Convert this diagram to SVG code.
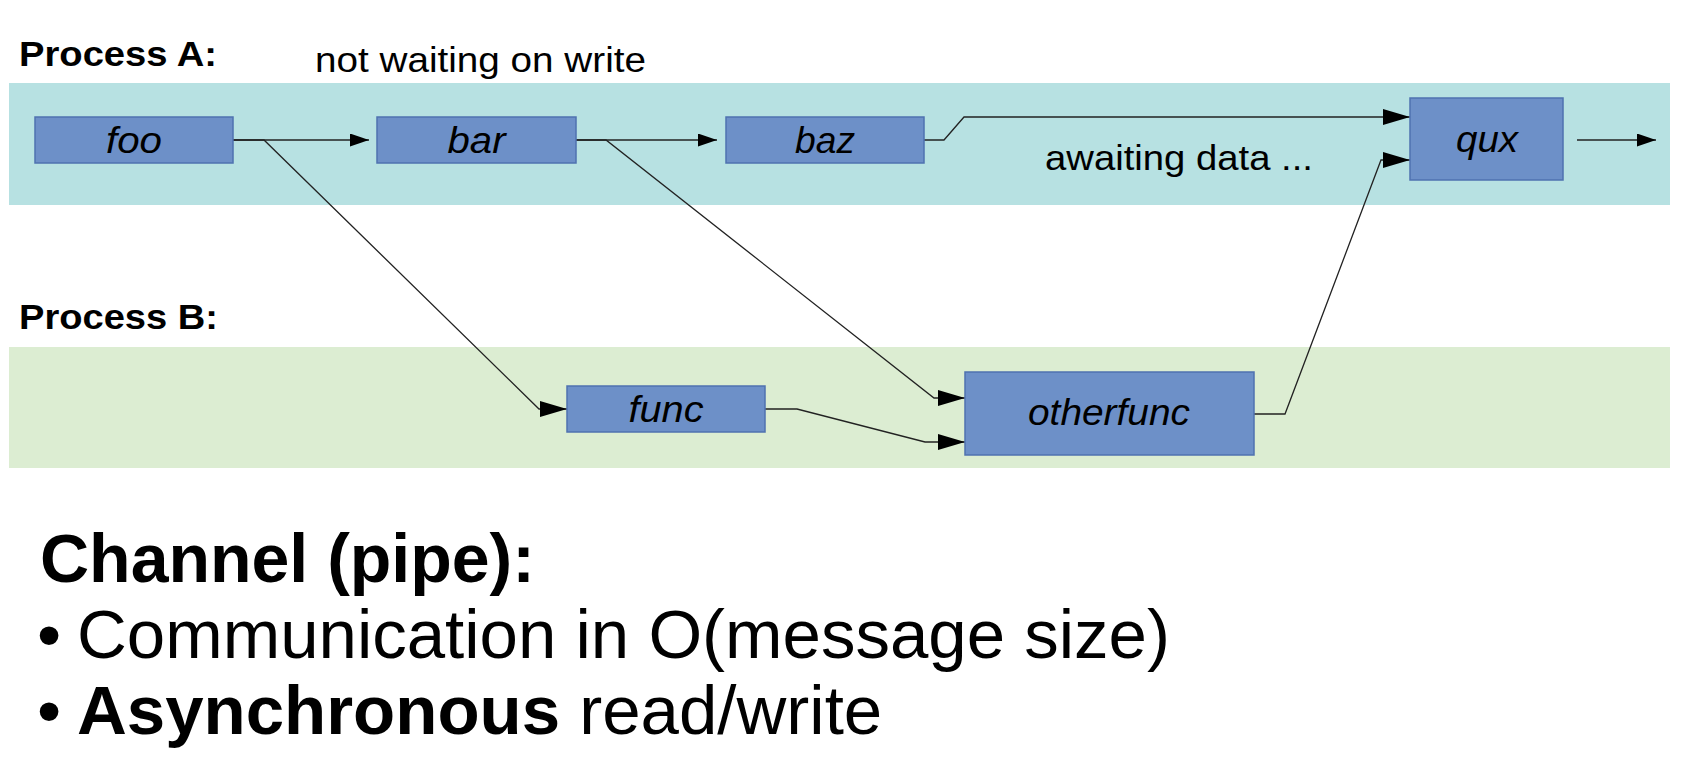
<svg xmlns="http://www.w3.org/2000/svg" width="1691" height="781" viewBox="0 0 1691 781">
<style>
.lbl{font-family:"Liberation Sans",Arial,sans-serif;font-size:35px;fill:#000}
.b{font-weight:bold}
.it{font-style:italic;text-anchor:middle;font-size:36px}
.box{fill:#6d90c8;stroke:#4f72b0;stroke-width:1.5}
.con{fill:none;stroke:#222;stroke-width:1.3}
.big{font-family:"Liberation Sans",Arial,sans-serif;font-size:68px;fill:#000}
.bul{font-size:69px}
</style>
<defs>
<marker id="aS" markerUnits="userSpaceOnUse" markerWidth="20" markerHeight="14" refX="19" refY="6.5" orient="auto"><path d="M0,0 L19,6.5 L0,13 z" fill="#000"/></marker>
<marker id="aL" markerUnits="userSpaceOnUse" markerWidth="28" markerHeight="17" refX="27" refY="8" orient="auto"><path d="M0,0 L27,8 L0,16 z" fill="#000"/></marker>
</defs>
<rect width="1691" height="781" fill="#fff"/>
<rect id="laneA" x="9" y="83" width="1661" height="122" fill="#b7e1e2"/>
<rect id="laneB" x="9" y="347" width="1661" height="121" fill="#dcedd2"/>
<text class="lbl b" x="19" y="66" textLength="198" lengthAdjust="spacingAndGlyphs">Process A:</text>
<text class="lbl" x="315" y="72" textLength="331" lengthAdjust="spacingAndGlyphs">not waiting on write</text>
<text class="lbl" x="1045" y="170" textLength="268" lengthAdjust="spacingAndGlyphs">awaiting data ...</text>
<text class="lbl b" x="19" y="329" textLength="199" lengthAdjust="spacingAndGlyphs">Process B:</text>
<g id="connectors">
<path class="con" d="M233,140 H369" marker-end="url(#aS)"/>
<path class="con" d="M576,140 H717" marker-end="url(#aS)"/>
<path class="con" d="M924,140 H944 L964,117 H1410" marker-end="url(#aL)"/>
<path class="con" d="M233,140 H264 L539,409 H567" marker-end="url(#aL)"/>
<path class="con" d="M576,140 H606 L934,398 H965" marker-end="url(#aL)"/>
<path class="con" d="M765,409 H797 L925,442 H965" marker-end="url(#aL)"/>
<path class="con" d="M1254,414 H1285 L1381,160 H1410" marker-end="url(#aL)"/>
<path class="con" d="M1577,140 H1656" marker-end="url(#aS)"/>
</g>
<g id="foo"><rect class="box" x="35" y="117" width="198" height="46"/><text class="lbl it" x="134" y="153" textLength="56" lengthAdjust="spacingAndGlyphs">foo</text></g>
<g id="bar"><rect class="box" x="377" y="117" width="199" height="46"/><text class="lbl it" x="476.5" y="153" textLength="58" lengthAdjust="spacingAndGlyphs">bar</text></g>
<g id="baz"><rect class="box" x="726" y="117" width="198" height="46"/><text class="lbl it" x="825" y="153" textLength="60" lengthAdjust="spacingAndGlyphs">baz</text></g>
<g id="qux"><rect class="box" x="1410" y="98" width="153" height="82"/><text class="lbl it" x="1487" y="152" textLength="62" lengthAdjust="spacingAndGlyphs">qux</text></g>
<g id="func"><rect class="box" x="567" y="386" width="198" height="46"/><text class="lbl it" x="666" y="422" textLength="75" lengthAdjust="spacingAndGlyphs">func</text></g>
<g id="otherfunc"><rect class="box" x="965" y="372" width="289" height="83"/><text class="lbl it" x="1109" y="425" textLength="162" lengthAdjust="spacingAndGlyphs">otherfunc</text></g>
<text class="big b" x="40" y="582">Channel (pipe):</text>
<text class="big bul" x="37" y="658">•</text>
<text class="big bul" x="77" y="658">Communication in O(message size)</text>
<text class="big bul" x="37" y="734">•</text>
<text class="big bul" x="77" y="734"><tspan font-weight="bold">Asynchronous</tspan> read/write</text>
</svg>
